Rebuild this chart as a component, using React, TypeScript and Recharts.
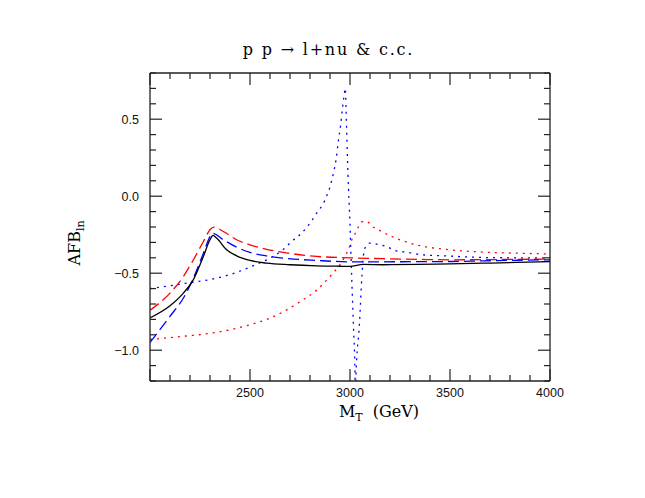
import React from 'react';
import { LineChart, Line, XAxis, YAxis } from 'recharts';

// ---- data (M_T in GeV, AFB values) ----
const blackM = [2000, 2100, 2167, 2217, 2267, 2300, 2315, 2333, 2383, 2433, 2500, 2583, 2700, 2833, 2950, 3000, 3067, 3167, 3333, 3500, 3667, 3833, 4000];
const blackV = [-0.79, -0.711, -0.629, -0.542, -0.391, -0.283, -0.255, -0.272, -0.348, -0.387, -0.417, -0.435, -0.445, -0.452, -0.455, -0.456, -0.443, -0.445, -0.443, -0.439, -0.435, -0.43, -0.424];

const redDashM = [2000, 2100, 2167, 2217, 2267, 2300, 2320, 2367, 2433, 2500, 2583, 2667, 2833, 3000, 3167, 3333, 3500, 3667, 3833, 4000];
const redDashV = [-0.741, -0.629, -0.521, -0.413, -0.294, -0.218, -0.201, -0.229, -0.283, -0.316, -0.345, -0.365, -0.391, -0.4, -0.406, -0.41, -0.413, -0.412, -0.41, -0.409];

const blueDashM = [2000, 2100, 2167, 2217, 2267, 2300, 2312, 2367, 2433, 2500, 2583, 2667, 2833, 3000, 3167, 3333, 3500, 3667, 3833, 4000];
const blueDashV = [-0.95, -0.78, -0.661, -0.532, -0.37, -0.262, -0.24, -0.283, -0.331, -0.365, -0.388, -0.402, -0.417, -0.426, -0.426, -0.425, -0.424, -0.42, -0.416, -0.413];

const blueDotM = [2000, 2167, 2333, 2433, 2500, 2583, 2667, 2708, 2758, 2800, 2842, 2863, 2883, 2900, 2917, 2930, 2942, 2953, 2963, 2975, 2977, 2980, 2990, 3000, 3008, 3017, 3025, 3027, 3030, 3047, 3060, 3070, 3085, 3097, 3133, 3183, 3225, 3292, 3358, 3500, 3667, 3833, 4000];
const blueDotV = [-0.6, -0.568, -0.532, -0.495, -0.46, -0.413, -0.345, -0.294, -0.24, -0.175, -0.093, -0.056, 0.0, 0.06, 0.15, 0.235, 0.36, 0.46, 0.58, 0.69, 0.70, 0.573, 0.138, -0.186, -0.51, -0.836, -1.16, -1.6, -1.16, -0.836, -0.51, -0.36, -0.315, -0.305, -0.311, -0.327, -0.353, -0.365, -0.38, -0.389, -0.398, -0.4, -0.4];

const redDotM = [2000, 2167, 2333, 2500, 2583, 2667, 2750, 2833, 2883, 2925, 2950, 2983, 3000, 3010, 3025, 3040, 3058, 3075, 3090, 3112, 3142, 3167, 3250, 3333, 3500, 3667, 3833, 4000];
const redDotV = [-0.93, -0.91, -0.884, -0.835, -0.8, -0.75, -0.685, -0.61, -0.545, -0.485, -0.445, -0.37, -0.32, -0.28, -0.245, -0.205, -0.168, -0.162, -0.168, -0.197, -0.218, -0.236, -0.283, -0.316, -0.348, -0.363, -0.37, -0.375];

// ---- axes ----
const xDomain = [2000, 4000];
const yDomain = [-1.2, 0.8];
const xTicks = [2000, 2100, 2200, 2300, 2400, 2500, 2600, 2700, 2800, 2900, 3000, 3100, 3200, 3300, 3400, 3500, 3600, 3700, 3800, 3900, 4000];
const xMajor = [2000, 2500, 3000, 3500, 4000];
const xLabels = ['2500', '3000', '3500', '4000'];
const yTicks = [-1.2, -1.1, -1.0, -0.9, -0.8, -0.7, -0.6, -0.5, -0.4, -0.3, -0.2, -0.1, 0.0, 0.1, 0.2, 0.3, 0.4, 0.5, 0.6, 0.7, 0.8];
const yMajor = [-1.0, -0.5, 0.0, 0.5];

const titleText = 'p p \u2192 l+nu & c.c.';

const zip = (ms: number[], vs: number[]) => ms.map((m, i) => ({ m, v: vs[i] }));
const blackData = zip(blackM, blackV);
const redDashData = zip(redDashM, redDashV);
const blueDashData = zip(blueDashM, blueDashV);
const blueDotData = zip(blueDotM, blueDotV);
const redDotData = zip(redDotM, redDotV);

const AX = '#222';
const MAJ = 12;
const MIN = 6;
const tickFont = { fontFamily: '"Liberation Sans", Arial, sans-serif', fontSize: 12.5, fill: '#111' };

const near = (a: number, list: number[]) => list.some((b) => Math.abs(a - b) < 1e-6);
const fmtY = (v: number) => (v < 0 ? '\u2212' : '') + Math.abs(v).toFixed(1);

const BottomTick = (p: any) => {
  const { x, y, payload } = p;
  const v = payload.value;
  const major = near(v, xMajor);
  const lab = String(v);
  return (
    <g>
      <line x1={x} x2={x} y1={y} y2={y - (major ? MAJ : MIN)} stroke={AX} strokeWidth={1.2} />
      {xLabels.includes(lab) && (
        <text x={x} y={y + 16} textAnchor="middle" {...tickFont}>{lab}</text>
      )}
    </g>
  );
};
const TopTick = (p: any) => {
  const { x, y, payload } = p;
  const major = near(payload.value, xMajor);
  return <line x1={x} x2={x} y1={y} y2={y + (major ? MAJ : MIN)} stroke={AX} strokeWidth={1.2} />;
};
const LeftTick = (p: any) => {
  const { x, y, payload } = p;
  const v = payload.value;
  const major = near(v, yMajor);
  return (
    <g>
      <line x1={x} x2={x + (major ? MAJ : MIN)} y1={y} y2={y} stroke={AX} strokeWidth={1.2} />
      {major && (
        <text x={x - 11} y={y + 4.5} textAnchor="end" {...tickFont}>{fmtY(v)}</text>
      )}
    </g>
  );
};
const RightTick = (p: any) => {
  const { x, y, payload } = p;
  const major = near(payload.value, yMajor);
  return <line x1={x} x2={x - (major ? MAJ : MIN)} y1={y} y2={y} stroke={AX} strokeWidth={1.2} />;
};

const serif = '"DejaVu Serif", "Liberation Serif", serif';

export default function App() {
  return (
    <div style={{ position: 'absolute', left: 0, top: 0, width: 645, height: 498, background: '#fff' }}>
      <LineChart width={645} height={498} margin={{ top: 0, right: 0, bottom: 0, left: 0 }}>
        <XAxis xAxisId="b" orientation="bottom" type="number" dataKey="m" domain={xDomain} ticks={xTicks} interval={0}
          allowDataOverflow height={117} tickSize={0} tickMargin={0} tickLine={false} tick={BottomTick}
          axisLine={{ stroke: AX, strokeWidth: 1.3 }} />
        <XAxis xAxisId="t" orientation="top" type="number" dataKey="m" domain={xDomain} ticks={xTicks} interval={0}
          allowDataOverflow height={73} tickSize={0} tickMargin={0} tickLine={false} tick={TopTick}
          axisLine={{ stroke: AX, strokeWidth: 1.3 }} />
        <YAxis yAxisId="l" orientation="left" type="number" domain={yDomain} ticks={yTicks} interval={0}
          allowDataOverflow width={150} tickSize={0} tickMargin={0} tickLine={false} tick={LeftTick}
          axisLine={{ stroke: AX, strokeWidth: 1.3 }} />
        <YAxis yAxisId="r" orientation="right" type="number" domain={yDomain} ticks={yTicks} interval={0}
          allowDataOverflow width={95} tickSize={0} tickMargin={0} tickLine={false} tick={RightTick}
          axisLine={{ stroke: AX, strokeWidth: 1.3 }} />
        <Line xAxisId="t" yAxisId="r" data={blackData} dataKey="v" stroke="none" dot={false} isAnimationActive={false} />
        <Line xAxisId="b" yAxisId="l" data={redDotData} dataKey="v" type="monotone" stroke="#ff0000" strokeWidth={1.3}
          strokeDasharray="2 5" dot={false} isAnimationActive={false} />
        <Line xAxisId="b" yAxisId="l" data={blueDotData} dataKey="v" type="monotone" stroke="#0000ff" strokeWidth={1.3}
          strokeDasharray="2 5" dot={false} isAnimationActive={false} />
        <Line xAxisId="b" yAxisId="l" data={redDashData} dataKey="v" type="monotone" stroke="#ff0000" strokeWidth={1.3}
          strokeDasharray="11 5" dot={false} isAnimationActive={false} />
        <Line xAxisId="b" yAxisId="l" data={blueDashData} dataKey="v" type="monotone" stroke="#0000ff" strokeWidth={1.3}
          strokeDasharray="11 5" dot={false} isAnimationActive={false} />
        <Line xAxisId="b" yAxisId="l" data={blackData} dataKey="v" type="monotone" stroke="#000" strokeWidth={1.3}
          dot={false} isAnimationActive={false} />
      </LineChart>
      <div style={{ position: 'absolute', left: 0, width: 657, top: 40, textAlign: 'center', fontFamily: serif, fontSize: 16, letterSpacing: 1.8, lineHeight: '20px', color: '#000', whiteSpace: 'pre' }}>
        {titleText}
      </div>
      <div style={{ position: 'absolute', left: 279, width: 200, top: 401, textAlign: 'center', fontFamily: serif, fontSize: 16, lineHeight: '22px', color: '#000', whiteSpace: 'pre' }}>
        M<span style={{ fontSize: 11, position: 'relative', top: 4 }}>T</span>{'  (GeV)'}
      </div>
      <div style={{ position: 'absolute', left: 76, top: 243, transform: 'translate(-50%, -50%) rotate(-90deg)', fontFamily: serif, fontSize: 16, lineHeight: '22px', color: '#000', whiteSpace: 'pre' }}>
        AFB<span style={{ fontSize: 11, position: 'relative', top: 4 }}>ln</span>
      </div>
    </div>
  );
}
